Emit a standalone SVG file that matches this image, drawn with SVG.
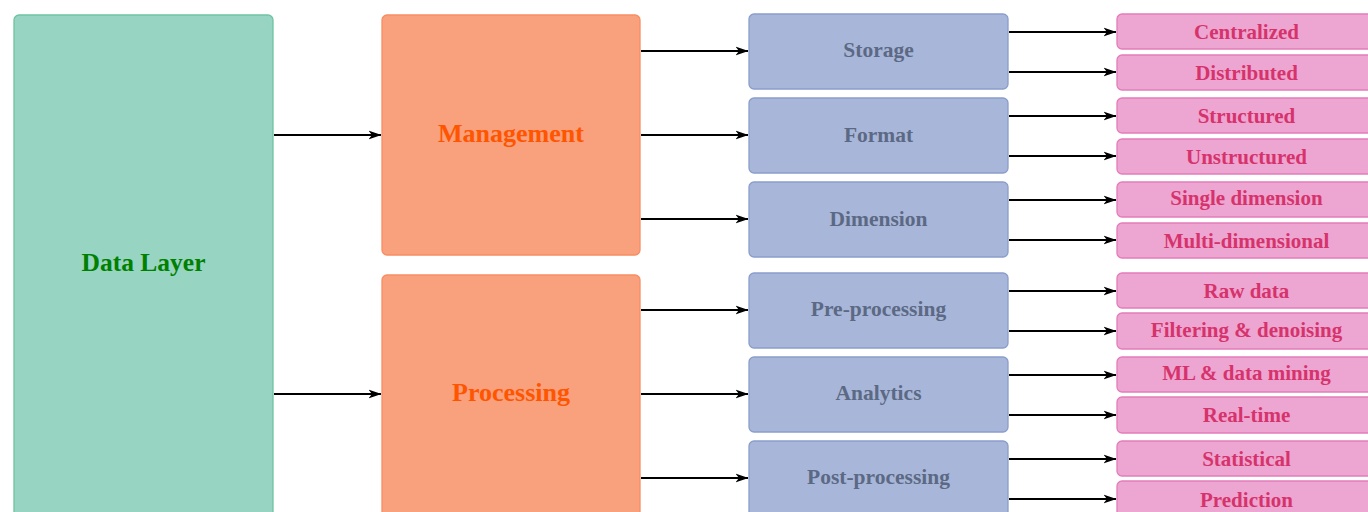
<svg xmlns="http://www.w3.org/2000/svg" width="1368" height="512" viewBox="0 0 1368 512">
<style>
.t{font-family:"Liberation Serif","Times New Roman",serif;font-weight:bold;text-anchor:middle}
.g rect{fill:#97d4c1;stroke:#6fc3a3;stroke-width:1.3}
.o rect{fill:#f9a07c;stroke:#f78d62;stroke-width:1.3}
.b rect{fill:#a8b7d9;stroke:#8a9dcb;stroke-width:1.3}
.p rect{fill:#eda5d1;stroke:#e47cba;stroke-width:1.3}
.g text{fill:#008000;font-size:25.5px}
.o text{fill:#ff5500;font-size:26px}
.b text{fill:#5c6984;font-size:21.5px}
.p text{fill:#d6336c;font-size:21px}
#edges line{stroke:#000;stroke-width:1.9;marker-end:url(#ah)}
</style>
<defs>
<marker id="ah" viewBox="0 0 13 10" refX="12.5" refY="5" markerWidth="13" markerHeight="10" markerUnits="userSpaceOnUse" orient="auto">
<path d="M0,0.5 L13,5 L0,9.5 L3.5,5 Z" fill="#000"/>
</marker>
</defs>
<rect width="1368" height="512" fill="#fff"/>
<g id="edges">
<line x1="274" y1="135" x2="381" y2="135"/>
<line x1="274" y1="394" x2="381" y2="394"/>
<line x1="641" y1="51" x2="748" y2="51"/>
<line x1="641" y1="135" x2="748" y2="135"/>
<line x1="641" y1="219" x2="748" y2="219"/>
<line x1="641" y1="310" x2="748" y2="310"/>
<line x1="641" y1="394" x2="748" y2="394"/>
<line x1="641" y1="478" x2="748" y2="478"/>
<line x1="1009" y1="32" x2="1116" y2="32"/>
<line x1="1009" y1="72" x2="1116" y2="72"/>
<line x1="1009" y1="116" x2="1116" y2="116"/>
<line x1="1009" y1="156" x2="1116" y2="156"/>
<line x1="1009" y1="200" x2="1116" y2="200"/>
<line x1="1009" y1="240" x2="1116" y2="240"/>
<line x1="1009" y1="291" x2="1116" y2="291"/>
<line x1="1009" y1="331" x2="1116" y2="331"/>
<line x1="1009" y1="375" x2="1116" y2="375"/>
<line x1="1009" y1="415" x2="1116" y2="415"/>
<line x1="1009" y1="459" x2="1116" y2="459"/>
<line x1="1009" y1="499" x2="1116" y2="499"/>
</g>
<g id="data-layer" class="g"><rect x="14" y="15" width="259" height="510" rx="5"/><text class="t" x="143.5" y="271">Data Layer</text></g>
<g id="management" class="o"><rect x="382" y="15" width="258" height="240" rx="5"/><text class="t" x="511" y="142">Management</text></g>
<g id="processing" class="o"><rect x="382" y="275" width="258" height="250" rx="5"/><text class="t" x="511" y="401">Processing</text></g>
<g id="storage" class="b"><rect x="749" y="14" width="259" height="75" rx="5"/><text class="t" x="878.5" y="57">Storage</text></g>
<g id="format" class="b"><rect x="749" y="98" width="259" height="75" rx="5"/><text class="t" x="878.5" y="142">Format</text></g>
<g id="dimension" class="b"><rect x="749" y="182" width="259" height="75" rx="5"/><text class="t" x="878.5" y="226">Dimension</text></g>
<g id="pre-processing" class="b"><rect x="749" y="273" width="259" height="75" rx="5"/><text class="t" x="878.5" y="316">Pre-processing</text></g>
<g id="analytics" class="b"><rect x="749" y="357" width="259" height="75" rx="5"/><text class="t" x="878.5" y="400">Analytics</text></g>
<g id="post-processing" class="b"><rect x="749" y="441" width="259" height="80" rx="5"/><text class="t" x="878.5" y="484">Post-processing</text></g>
<g id="centralized" class="p"><rect x="1117" y="14" width="259" height="35" rx="5"/><text class="t" x="1246.5" y="39">Centralized</text></g>
<g id="distributed" class="p"><rect x="1117" y="55" width="259" height="35" rx="5"/><text class="t" x="1246.5" y="80">Distributed</text></g>
<g id="structured" class="p"><rect x="1117" y="98" width="259" height="35" rx="5"/><text class="t" x="1246.5" y="123">Structured</text></g>
<g id="unstructured" class="p"><rect x="1117" y="139" width="259" height="35" rx="5"/><text class="t" x="1246.5" y="164">Unstructured</text></g>
<g id="single-dimension" class="p"><rect x="1117" y="182" width="259" height="35" rx="5"/><text class="t" x="1246.5" y="205">Single dimension</text></g>
<g id="multi-dimensional" class="p"><rect x="1117" y="223" width="259" height="35" rx="5"/><text class="t" x="1246.5" y="248">Multi-dimensional</text></g>
<g id="raw-data" class="p"><rect x="1117" y="273" width="259" height="35" rx="5"/><text class="t" x="1246.5" y="298">Raw data</text></g>
<g id="filtering" class="p"><rect x="1117" y="313" width="259" height="36" rx="5"/><text class="t" x="1246.5" y="337">Filtering &amp; denoising</text></g>
<g id="ml-data-mining" class="p"><rect x="1117" y="357" width="259" height="35" rx="5"/><text class="t" x="1246.5" y="380">ML &amp; data mining</text></g>
<g id="real-time" class="p"><rect x="1117" y="397" width="259" height="36" rx="5"/><text class="t" x="1246.5" y="422">Real-time</text></g>
<g id="statistical" class="p"><rect x="1117" y="441" width="259" height="35" rx="5"/><text class="t" x="1246.5" y="466">Statistical</text></g>
<g id="prediction" class="p"><rect x="1117" y="481" width="259" height="40" rx="5"/><text class="t" x="1246.5" y="507">Prediction</text></g>
</svg>
